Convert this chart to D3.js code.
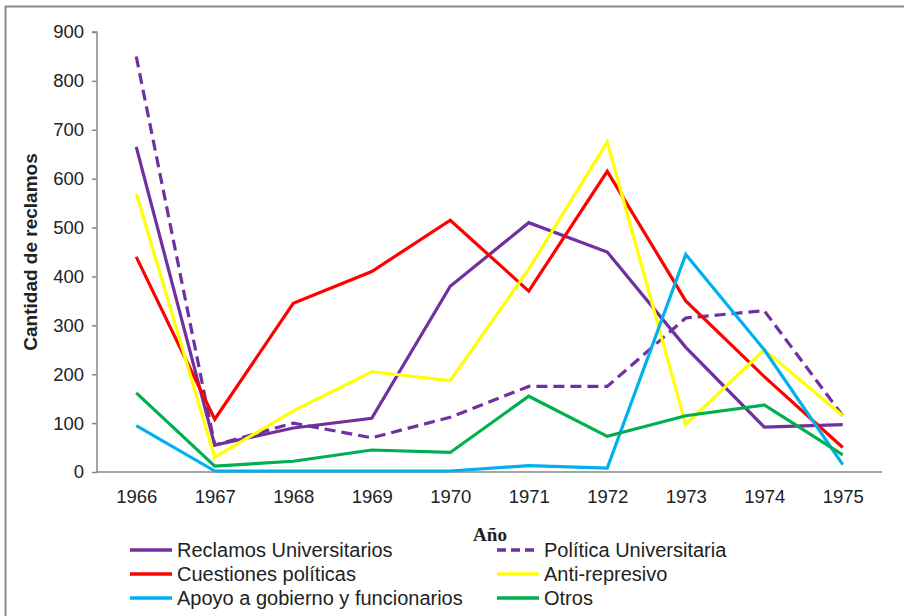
<!DOCTYPE html>
<html><head><meta charset="utf-8">
<script src="https://cdn.jsdelivr.net/npm/d3@7"></script>
<style>body{margin:0;background:#fff}svg{display:block}</style>
</head><body>
<svg id="c" width="904" height="616"></svg>
<script>
const years = ["1966","1967","1968","1969","1970","1971","1972","1973","1974","1975"];
const yTicks = [0,100,200,300,400,500,600,700,800,900];
const reclamosUniv = [665,55,90,110,380,510,450,255,92,97];
const politicaUniv = [850,55,100,70,112,175,175,315,330,115];
const cuestionesPol = [440,108,345,410,515,370,615,350,195,50];
const antiRepresivo = [570,30,125,205,187,415,675,97,250,115];
const apoyoGob = [95,2,2,2,2,13,8,445,250,15];
const otros = [162,12,22,45,40,155,73,115,137,35];
const seriesNames = ["Reclamos Universitarios","Política Universitaria","Cuestiones políticas","Anti-represivo","Apoyo a gobierno y funcionarios","Otros"];
const seriesColors = ["#7030A0","#7030A0","#FF0000","#FFFF00","#00B0F0","#00B050"];
const seriesDash = [null,"11,6",null,null,null,null];
const seriesValues = [reclamosUniv,politicaUniv,cuestionesPol,antiRepresivo,apoyoGob,otros];

const svg = d3.select("#c");
const font = "Liberation Sans, Arial, sans-serif";
// frame
svg.append("line").attr("x1",5.5).attr("x2",5.5).attr("y1",6).attr("y2",616).attr("stroke","#888").attr("stroke-width",2);
svg.append("line").attr("x1",5).attr("x2",904).attr("y1",6.5).attr("y2",6.5).attr("stroke","#888").attr("stroke-width",2);

const pL=97, pR=882, pT=32, pB=472;
const x = d3.scalePoint().domain(years).range([pL,pR]).padding(0.5);
const y = d3.scaleLinear().domain([0,900]).range([pB,pT]);

// y axis
const ya = svg.append("g").attr("transform",`translate(${pL},0)`)
  .call(d3.axisLeft(y).tickValues(yTicks).tickSize(5).tickPadding(8));
ya.select(".domain").attr("stroke","#888").attr("stroke-width",1.5).attr("d",`M-5,${pT}H0V${pB}`);
ya.selectAll(".tick line").attr("stroke","#888").attr("stroke-width",1.5);
ya.selectAll("text").attr("font-family",font).attr("font-size",18.5).attr("fill","#222");

// x axis
const xa = svg.append("g").attr("transform",`translate(0,${pB})`)
  .call(d3.axisBottom(x).tickSize(0).tickPadding(17.5));
xa.select(".domain").attr("stroke","#888").attr("stroke-width",1.5).attr("d",`M${pL},0H${pR}`);
xa.selectAll("text").attr("font-family",font).attr("font-size",18.5).attr("fill","#222");

// lines
const line = d3.line().x((d,i)=>x(years[i])).y(d=>y(d));
seriesValues.forEach((vals,k)=>{
  svg.append("path").datum(vals).attr("d",line).attr("fill","none")
    .attr("stroke",seriesColors[k]).attr("stroke-width",3.2)
    .attr("stroke-linejoin","miter").attr("stroke-dasharray",seriesDash[k]);
});

// axis titles
svg.append("text").attr("x",490).attr("y",541).attr("text-anchor","middle")
  .attr("font-family","Liberation Serif, Times New Roman, serif").attr("font-weight","bold").attr("font-size",19).attr("fill","#222").text("Año");
svg.append("text").attr("transform",`translate(37,${(pT+pB)/2}) rotate(-90)`).attr("text-anchor","middle")
  .attr("font-family",font).attr("font-weight","bold").attr("font-size",19).attr("fill","#222").text("Cantidad de reclamos");

// legend
const legPos = [[130,550],[497,550],[130,574],[497,574],[130,598],[497,598]];
seriesNames.forEach((n,k)=>{
  const [lx,ly]=legPos[k];
  svg.append("line").attr("x1",lx).attr("x2",lx+42).attr("y1",ly).attr("y2",ly)
    .attr("stroke",seriesColors[k]).attr("stroke-width",3.5).attr("stroke-dasharray",k===1?"9,5":null);
  svg.append("text").attr("x",lx+47).attr("y",ly+6.5).attr("font-family",font).attr("font-size",20).attr("fill","#222").text(n);
});
</script>
</body></html>
